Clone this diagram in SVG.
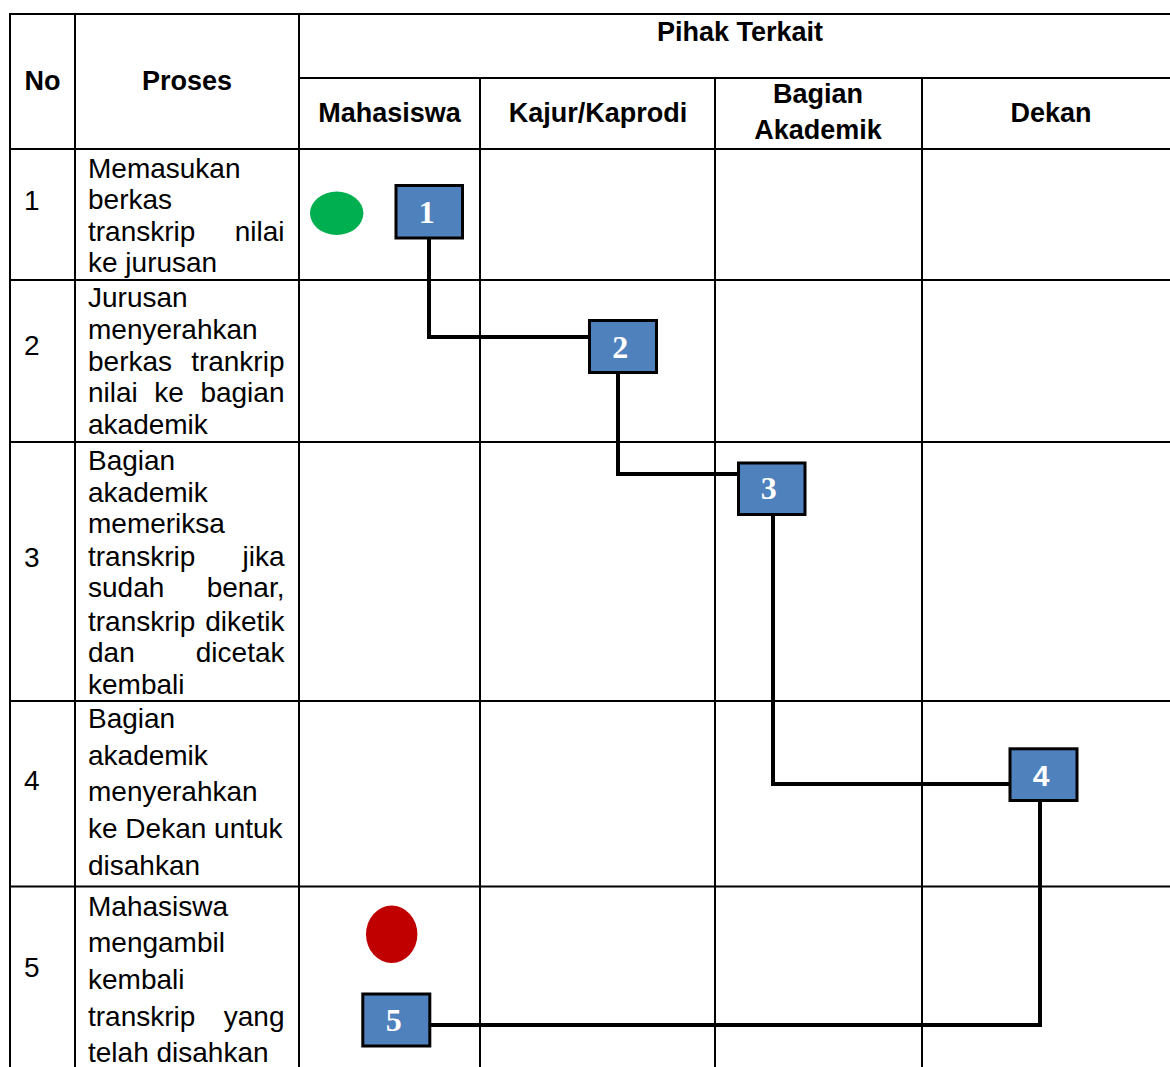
<svg xmlns="http://www.w3.org/2000/svg" width="1170" height="1067" viewBox="0 0 1170 1067">
<style>
.grid line{stroke:#000;stroke-width:2}
.hd{font-family:"Liberation Sans",Arial,sans-serif;font-size:27px;font-weight:bold;fill:#000;text-anchor:middle}
.bd{font-family:"Liberation Sans",Arial,sans-serif;font-size:28px;fill:#000}
.end{text-anchor:end}
.box{fill:#4F81BD;stroke:#000;stroke-width:3}
.num{font-family:"Liberation Serif","Times New Roman",serif;font-size:32px;font-weight:bold;fill:#fff;text-anchor:middle}
.num4{font-family:"Liberation Sans",Arial,sans-serif;font-size:30px;font-weight:bold;fill:#fff;text-anchor:middle}
.conn{fill:none;stroke:#000;stroke-width:4;stroke-linejoin:miter}
</style>
<rect width="1170" height="1067" fill="#fff"/>
<g id="table" class="grid">
<line x1="10" y1="14" x2="1170" y2="14"/>
<line x1="299" y1="78" x2="1170" y2="78"/>
<line x1="10" y1="149" x2="1170" y2="149"/>
<line x1="10" y1="280" x2="1170" y2="280"/>
<line x1="10" y1="442" x2="1170" y2="442"/>
<line x1="10" y1="701" x2="1170" y2="701"/>
<line x1="10" y1="886.5" x2="1170" y2="886.5"/>
<line x1="10" y1="13" x2="10" y2="1067"/>
<line x1="75" y1="14" x2="75" y2="1067"/>
<line x1="299" y1="14" x2="299" y2="1067"/>
<line x1="480" y1="78" x2="480" y2="1067"/>
<line x1="715" y1="78" x2="715" y2="1067"/>
<line x1="922" y1="78" x2="922" y2="1067"/>
</g>
<g id="headers">
<text class="hd" x="740" y="41">Pihak Terkait</text>
<text class="hd" x="42.5" y="90">No</text>
<text class="hd" x="187" y="90">Proses</text>
<text class="hd" x="389.5" y="121.5">Mahasiswa</text>
<text class="hd" x="598" y="121.5">Kajur/Kaprodi</text>
<text class="hd" x="818" y="103">Bagian</text>
<text class="hd" x="818" y="139">Akademik</text>
<text class="hd" x="1051" y="121.5">Dekan</text>
</g>
<g id="row1">
<text class="bd" x="24" y="210">1</text>
<text class="bd" x="88" y="177.8">Memasukan</text>
<text class="bd" x="88" y="209.2">berkas</text>
<text class="bd" x="88" y="240.5">transkrip</text>
<text class="bd end" x="284.5" y="240.5">nilai</text>
<text class="bd" x="88" y="272">ke jurusan</text>
</g>
<g id="row2">
<text class="bd" x="24" y="354.5">2</text>
<text class="bd" x="88" y="306.5">Jurusan</text>
<text class="bd" x="88" y="338.5">menyerahkan</text>
<text class="bd" x="88" y="370.5">berkas</text>
<text class="bd end" x="284.5" y="370.5">trankrip</text>
<text class="bd" x="88" y="402.2">nilai</text>
<text class="bd" x="154.3" y="402.2">ke</text>
<text class="bd end" x="284.5" y="402.2">bagian</text>
<text class="bd" x="88" y="433.8">akademik</text>
</g>
<g id="row3">
<text class="bd" x="24" y="566.5">3</text>
<text class="bd" x="88" y="469.8">Bagian</text>
<text class="bd" x="88" y="501.5">akademik</text>
<text class="bd" x="88" y="533.2">memeriksa</text>
<text class="bd" x="88" y="565.5">transkrip</text>
<text class="bd end" x="284.5" y="565.5">jika</text>
<text class="bd" x="88" y="597.2">sudah</text>
<text class="bd end" x="284.5" y="597.2">benar,</text>
<text class="bd" x="88" y="630.5">transkrip</text>
<text class="bd end" x="284.5" y="630.5">diketik</text>
<text class="bd" x="88" y="662.2">dan</text>
<text class="bd end" x="284.5" y="662.2">dicetak</text>
<text class="bd" x="88" y="693.8">kembali</text>
</g>
<g id="row4">
<text class="bd" x="24" y="789.5">4</text>
<text class="bd" x="88" y="728.2">Bagian</text>
<text class="bd" x="88" y="764.8">akademik</text>
<text class="bd" x="88" y="801.2">menyerahkan</text>
<text class="bd" x="88" y="837.8">ke Dekan untuk</text>
<text class="bd" x="88" y="874.8">disahkan</text>
</g>
<g id="row5">
<text class="bd" x="24" y="977.2">5</text>
<text class="bd" x="88" y="915.5">Mahasiswa</text>
<text class="bd" x="88" y="952.2">mengambil</text>
<text class="bd" x="88" y="988.8">kembali</text>
<text class="bd" x="88" y="1025.5">transkrip</text>
<text class="bd end" x="284.5" y="1025.5">yang</text>
<text class="bd" x="88" y="1062.2">telah disahkan</text>
</g>
<g id="connectors">
<polyline class="conn" points="429,239 429,337 588,337"/>
<polyline class="conn" points="618,374 618,474 737,474"/>
<polyline class="conn" points="773,516 773,784 1009,784"/>
<polyline class="conn" points="1040,802 1040,1025 431,1025"/>
</g>
<g id="start"><ellipse cx="336.7" cy="213.3" rx="26.7" ry="21.7" fill="#00B050"/></g>
<g id="step1"><rect class="box" x="396" y="185.5" width="66.5" height="52.5"/><text class="num" x="426.7" y="222.7">1</text></g>
<g id="step2"><rect class="box" x="589.5" y="320.5" width="67" height="52"/><text class="num" x="620.3" y="357.7">2</text></g>
<g id="step3"><rect class="box" x="738.5" y="463" width="66.5" height="51.5"/><text class="num" x="768.7" y="499.3">3</text></g>
<g id="step4"><rect class="box" x="1010" y="748.8" width="67" height="51.7"/><text class="num4" x="1041" y="786">4</text></g>
<g id="end"><ellipse cx="391.7" cy="934.3" rx="25.7" ry="28.7" fill="#C00000"/></g>
<g id="step5"><rect class="box" x="362.8" y="994" width="67" height="52"/><text class="num" x="393.7" y="1031">5</text></g>
</svg>
